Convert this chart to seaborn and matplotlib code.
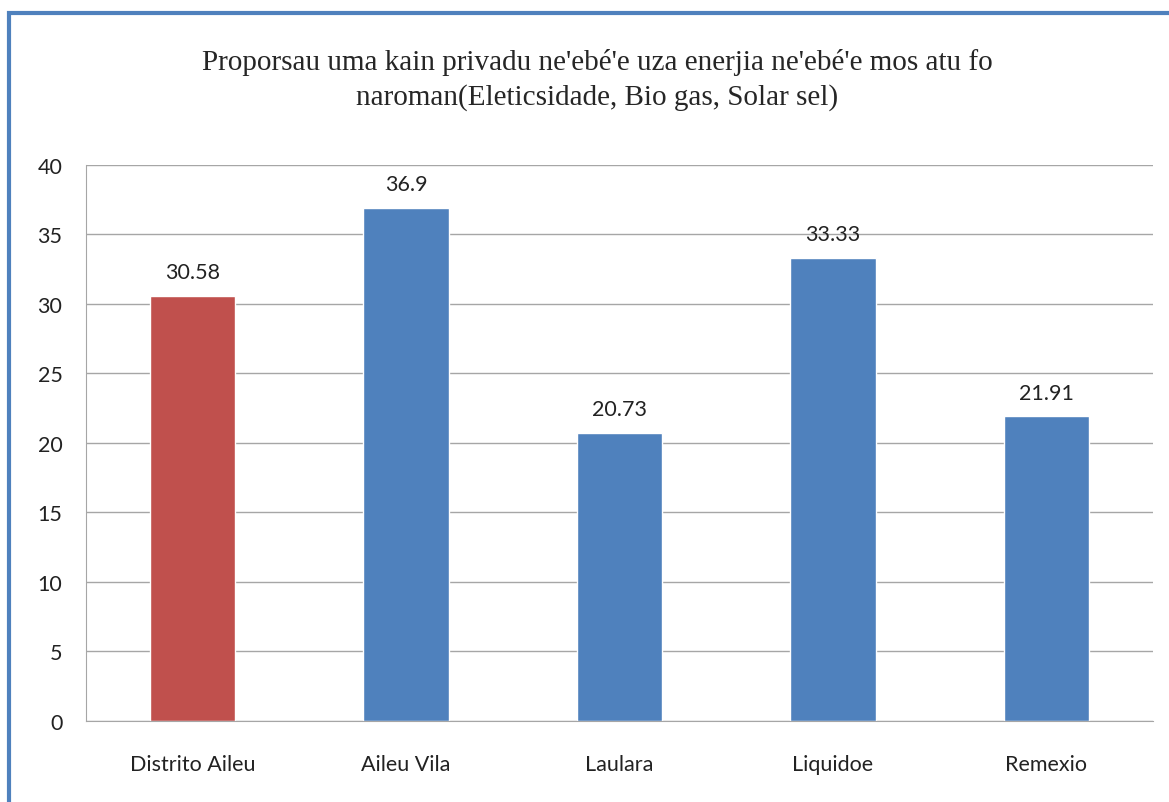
import matplotlib
matplotlib.use("Agg")
import matplotlib.pyplot as plt
import seaborn as sns
import pandas as pd
from matplotlib.patches import Rectangle

categories = ["Distrito Aileu", "Aileu Vila", "Laulara", "Liquidoe", "Remexio"]
values = [30.58, 36.9, 20.73, 33.33, 21.91]
labels = ["30.58", "36.9", "20.73", "33.33", "21.91"]
colors = ["#C0504D", "#4F81BD", "#4F81BD", "#4F81BD", "#4F81BD"]
yticks = [0, 5, 10, 15, 20, 25, 30, 35, 40]
title = "Proporsau uma kain privadu ne'ebé'e uza enerjia ne'ebé'e mos atu fo\nnaroman(Eleticsidade, Bio gas, Solar sel)"


def main():
    sns.set_style("white")
    plt.rcParams["font.family"] = ["Lato", "DejaVu Sans"]

    df = pd.DataFrame({"cat": categories, "val": values})

    fig = plt.figure(figsize=(11.69, 8.03), dpi=100)
    ax = fig.add_axes([0.0736, 0.1009, 0.9127, 0.6924])

    sns.barplot(data=df, x="cat", y="val", hue="cat", palette=colors,
                width=0.4, legend=False, ax=ax, saturation=1)

    for i, v in enumerate(values):
        ax.text(i, v + 1.0, labels[i], ha="center", va="bottom", fontsize=15.5, color="#222222")

    ax.set_ylim(0, 40)
    ax.set_yticks(yticks)
    ax.set_xlim(-0.5, len(categories) - 0.5)
    ax.yaxis.grid(True, color="#A6A6A6", linewidth=1)
    ax.set_axisbelow(True)
    ax.set_xlabel("")
    ax.set_ylabel("")
    for s in ["top", "right"]:
        ax.spines[s].set_visible(False)
    ax.spines["left"].set_color("#A6A6A6")
    ax.spines["bottom"].set_color("#A6A6A6")
    ax.tick_params(axis="both", labelsize=15.5, colors="#222222", length=0)
    ax.tick_params(axis="y", pad=17)
    ax.tick_params(axis="x", pad=24)

    fig.text(0.511, 0.900, title, ha="center", va="center", fontsize=21,
             family=["Liberation Serif", "DejaVu Serif"], linespacing=1.38)

    # outer blue frame (runs off the right and bottom edges)
    fig.patches.append(Rectangle((9 / 1169, -0.05), 1.2, 0.05 + (803 - 13.5) / 803,
                                 transform=fig.transFigure, fill=False,
                                 edgecolor="#4F81BD", linewidth=3))

    fig.savefig("out.png", dpi=100)


if __name__ == "__main__":
    main()
